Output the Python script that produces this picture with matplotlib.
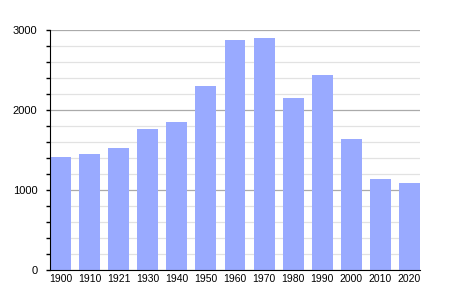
import matplotlib.pyplot as plt
import numpy as np

years = ['1900', '1910', '1921', '1930', '1940', '1950', '1960',
         '1970', '1980', '1990', '2000', '2010', '2020']
population = [1412, 1450, 1525, 1762, 1850, 2300, 2875,
              2904, 2150, 2437, 1637, 1137, 1087]

plt.rcParams['font.family'] = ['Liberation Sans', 'DejaVu Sans']

fig = plt.figure(figsize=(4.5, 3), dpi=100)
ax = fig.add_axes([50 / 450, 30 / 300, 370 / 450, 240 / 300])

x = np.arange(len(years))
width = 0.72
ax.bar(x, population, width, color='#99aaff', zorder=3)

ax.set_xlim(-width / 2, len(years) - 1 + width / 2)
ax.set_ylim(0, 3000)
ax.set_yticks([0, 1000, 2000, 3000])
ax.set_yticks(np.arange(0, 3001, 200), minor=True)
ax.set_xticks(x)
ax.set_xticklabels(years)

# major grid darker, minor grid light
ax.grid(axis='y', which='major', color='#aaaaaa', linewidth=0.9, zorder=1)
ax.grid(axis='y', which='minor', color='#e2e2e2', linewidth=0.9, zorder=0)

for side in ['top', 'right']:
    ax.spines[side].set_visible(False)
ax.spines['left'].set_zorder(4)
ax.spines['bottom'].set_zorder(4)

ax.tick_params(axis='y', which='both', direction='out', length=3, width=1,
               labelsize=8, pad=6)
ax.tick_params(axis='x', which='both', length=0, labelsize=7.5, pad=3)

plt.savefig('out.png', dpi=100)
